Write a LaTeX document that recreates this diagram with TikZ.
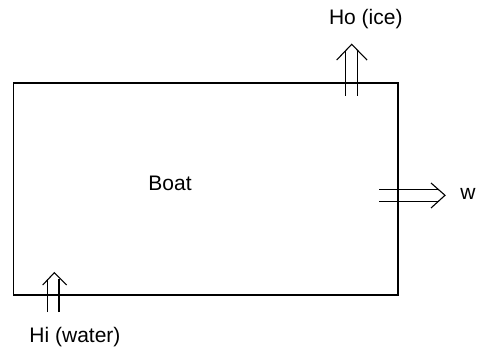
\documentclass[tikz,border=0pt]{standalone}
\usepackage{fontspec}
\setmainfont{Liberation Sans}
\begin{document}
\begin{tikzpicture}[x=1pt, y=-1pt, line width=1.1pt,
    font=\fontsize{21}{25}\selectfont,
    lbl/.style={inner sep=0pt},
    tip/.style={line join=miter}]
    \useasboundingbox (0,0) rectangle (478,356);
    % the boat
    \draw (13.3,83) rectangle (398,295);
    \node[lbl] (boatname) at (170,183) {Boat};
    % Ho (ice) going out at the top
    \coordinate (hoa) at (345.7,95.7); \coordinate (hoat) at (345.7,50.5);
    \coordinate (hob) at (357.7,95.7); \coordinate (hobt) at (357.7,50.5);
    \draw (hoa)--(hoat); \draw (hob)--(hobt);
    \draw[tip] (336.7,60)--(351.7,44.3)--(367,60);
    \node[lbl] (holbl) at (365.8,19) {Ho (ice)};
    % w going out at the right
    \coordinate (wa) at (379,189.3); \coordinate (wat) at (439,189.3);
    \coordinate (wb) at (379,201.3); \coordinate (wbt) at (439,201.3);
    \draw (wa)--(wat); \draw (wb)--(wbt);
    \draw[tip] (431,183)--(445,195.3)--(431,208);
    \node[lbl] (wlbl) at (468,194) {w};
    % Hi (water) coming in at the bottom
    \coordinate (hia) at (47.7,312); \coordinate (hiat) at (47.7,278.5);
    \coordinate (hib) at (59,312); \coordinate (hibt) at (59,278.5);
    \draw (hia)--(hiat); \draw (hib)--(hibt);
    \draw[tip] (42.7,285)--(54.3,272.7)--(66.7,285);
    \node[lbl] (hilbl) at (75,337.5) {Hi (water)};
\end{tikzpicture}
\end{document}
